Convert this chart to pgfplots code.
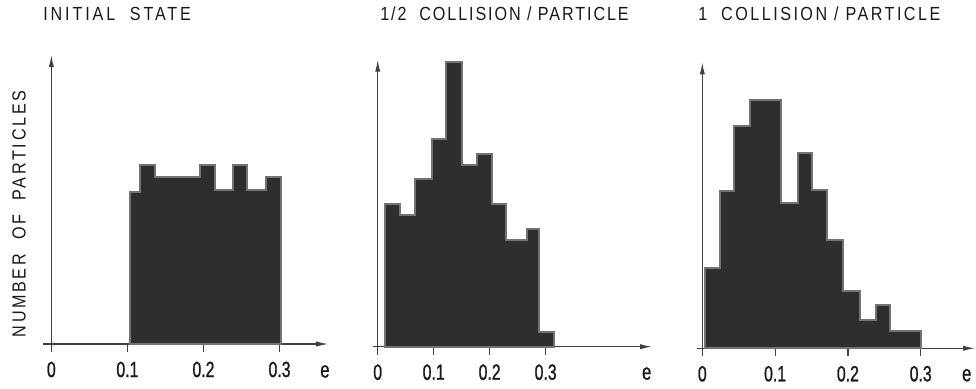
\documentclass[border=0pt]{standalone}
\usepackage{fontspec}
\setmainfont{Liberation Sans}
\newfontfamily\ttla[LetterSpace=15,FakeStretch=0.85]{Liberation Sans}
\newfontfamily\ttlb[LetterSpace=10,FakeStretch=0.85]{Liberation Sans}
\newfontfamily\ttlc[LetterSpace=13,FakeStretch=0.85]{Liberation Sans}
\newfontfamily\ylab[LetterSpace=14,FakeStretch=0.85]{Liberation Sans}
\newfontfamily\tkf[FakeStretch=0.72,FakeBold=1]{Liberation Sans}
\usepackage{pgfplots}
\pgfplotsset{compat=1.18}
\usetikzlibrary{arrows.meta}
\definecolor{barfill}{gray}{0.18}
\definecolor{baredge}{gray}{0.45}
\pgfplotsset{
  panel/.style={
    axis lines=middle,
    clip=false,
    anchor=south west,
    y=0.5pt,
    ymin=-5,
    ytick=\empty,
    xtick={0,0.1,0.2,0.3},
    xticklabels={0,0.1,0.2,0.3},
    hide obscured x ticks=false,
    xtick align=outside,
    major tick length=4pt,
    tick style={black!75, line width=0.6pt},
    axis line style={black!75, line width=0.6pt, -{Latex[length=6pt,width=2.6pt]}},
    xticklabel style={font=\tkf\fontsize{11}{13}\selectfont, anchor=base, yshift=-12.5pt, text=black!90},
    /pgf/number format/assume math mode=true,
  },
  hist/.style={const plot, draw=baredge, line width=1pt, fill=barfill, mark=none},
}
\begin{document}
\begin{tikzpicture}
\path (0,0) rectangle (488pt,193pt);
% Panel 1
\begin{axis}[panel, x=380.3pt, xmin=-0.011, xmax=0.364, ymax=289, at={(21.5pt,18.5pt)}]
\addplot[hist] coordinates {(0.103,152) (0.116,179) (0.136,167) (0.195,179) (0.215,154) (0.239,179) (0.257,154) (0.282,167) (0.302,167)} \closedcycle;
\node[anchor=base west, inner sep=0pt, text=black!90, font=\ttla\fontsize{9.5}{11}\selectfont] at (axis cs:-0.011,324) {INITIAL\ \ STATE};
\node[rotate=90, inner sep=0pt, text=black!90, font=\ylab\fontsize{9.5}{11}\selectfont] at (axis cs:-0.0426,130) {NUMBER\ \ OF\ \ PARTICLES};
\node[anchor=base, inner sep=0pt, text=black!90, font=\tkf\fontsize{11.5}{13}\selectfont] at (axis cs:0.3597,-33.5) {e};
\end{axis}
% Panel 2
\begin{axis}[panel, x=279.9pt, xmin=-0.0084, xmax=0.490, ymax=287, at={(186.5pt,17.15pt)}]
\addplot[hist] coordinates {(0.013,143) (0.040,132) (0.067,168) (0.097,208) (0.122,285) (0.150,182) (0.177,193) (0.204,143) (0.230,107) (0.266,118) (0.289,15) (0.315,15)} \closedcycle;
\node[anchor=base west, inner sep=0pt, text=black!90, font=\ttlb\fontsize{9.5}{11}\selectfont] at (axis cs:0.004,326.7) {1/2\ \ COLLISION / PARTICLE};
\node[anchor=base, inner sep=0pt, text=black!90, font=\tkf\fontsize{11.5}{13}\selectfont] at (axis cs:0.4805,-33) {e};
\end{axis}
% Panel 3
\begin{axis}[panel, x=364pt, xmin=-0.0073, xmax=0.3746, ymax=286, at={(348.5pt,16.35pt)}]
\addplot[hist] coordinates {(0.004,80) (0.024,157) (0.044,222) (0.065,248) (0.108,145) (0.131,195) (0.150,158) (0.171,108) (0.193,57) (0.217,28) (0.239,43) (0.258,17) (0.300,17)} \closedcycle;
\node[anchor=base west, inner sep=0pt, text=black!90, font=\ttlc\fontsize{9.5}{11}\selectfont] at (axis cs:-0.006,328.3) {1\ \ COLLISION / PARTICLE};
\node[anchor=base, inner sep=0pt, text=black!90, font=\tkf\fontsize{11.5}{13}\selectfont] at (axis cs:0.3632,-33) {e};
\end{axis}
\end{tikzpicture}
\end{document}
